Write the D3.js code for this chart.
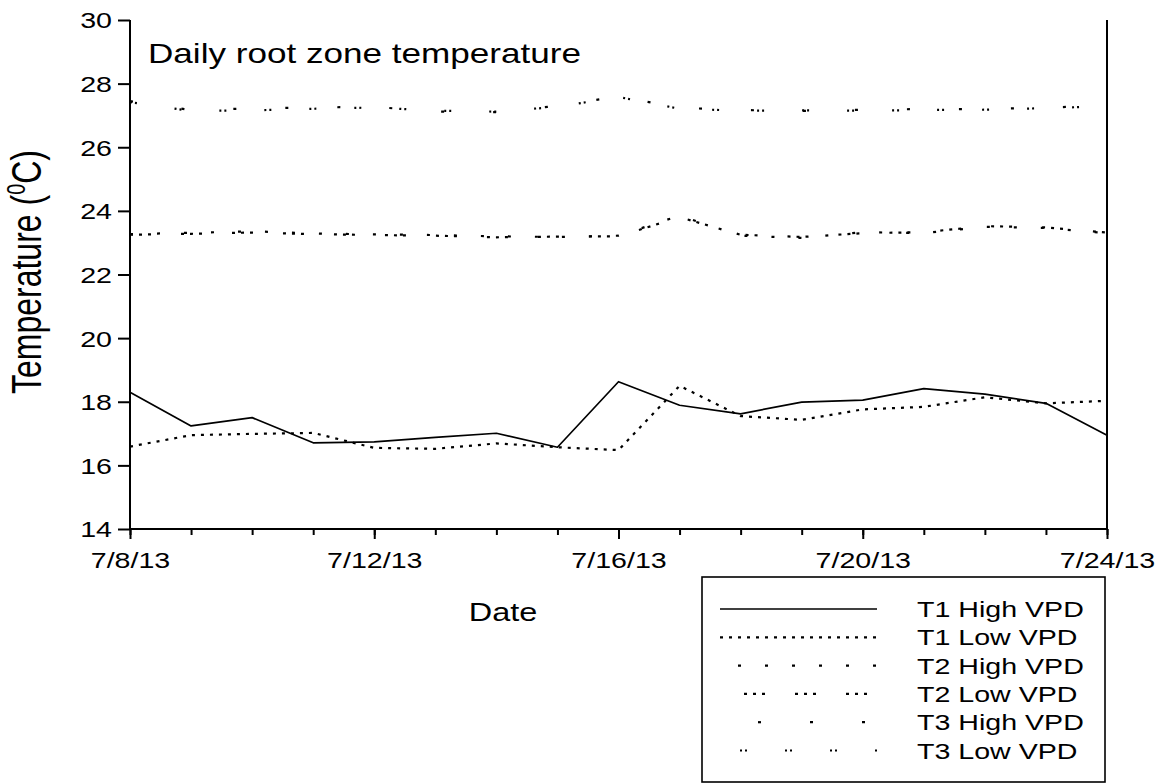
<!DOCTYPE html>
<html>
<head>
<meta charset="utf-8">
<script src="https://cdn.jsdelivr.net/npm/d3@7"></script>
<style>
  html, body { margin: 0; padding: 0; background: #fff; }
  svg { display: block; }
  text { font-family: "Liberation Sans", Arial, sans-serif; fill: #000; }
</style>
</head>
<body>
<svg id="chart" width="1155" height="784"></svg>
<script>
// ---------------- data ----------------
const dates = ["2013-07-08","2013-07-09","2013-07-10","2013-07-11","2013-07-12","2013-07-13",
  "2013-07-14","2013-07-15","2013-07-16","2013-07-17","2013-07-18","2013-07-19","2013-07-20",
  "2013-07-21","2013-07-22","2013-07-23","2013-07-24"];
const t1High = [18.30, 17.24, 17.50, 16.71, 16.74, 16.88, 17.01, 16.57, 18.63, 17.89, 17.62, 17.99, 18.05, 18.41, 18.24, 17.95, 16.95];
const t1Low  = [16.59, 16.95, 16.99, 17.02, 16.55, 16.52, 16.69, 16.57, 16.48, 18.50, 17.55, 17.43, 17.76, 17.84, 18.14, 17.95, 18.03];
const t2High = [23.27, 23.31, 23.36, 23.29, 23.26, 23.24, 23.20, 23.18, 23.22, 23.85, 23.22, 23.15, 23.33, 23.30, 23.50, 23.46, 23.30];
const t2Low  = [23.25, 23.28, 23.32, 23.27, 23.24, 23.22, 23.17, 23.19, 23.20, 23.80, 23.25, 23.18, 23.30, 23.33, 23.52, 23.48, 23.32];
const t3High = [27.45, 27.17, 27.22, 27.25, 27.27, 27.12, 27.10, 27.30, 27.60, 27.24, 27.17, 27.14, 27.18, 27.20, 27.20, 27.25, 27.30];
const t3Low  = [27.42, 27.14, 27.16, 27.21, 27.25, 27.15, 27.12, 27.27, 27.58, 27.21, 27.15, 27.16, 27.15, 27.17, 27.18, 27.23, 27.29];
const seriesNames = ["T1 High VPD","T1 Low VPD","T2 High VPD","T2 Low VPD","T3 High VPD","T3 Low VPD"];
const seriesValues = [t1High, t1Low, t2High, t2Low, t3High, t3Low];
const yTicks = [14, 16, 18, 20, 22, 24, 26, 28, 30];
const titleText = "Daily root zone temperature";
const xLabel = "Date";

// ---------------- styles ----------------
const dashes = [null, "3,6", "3,24", "3,6,3,6,3,30", "3,49", "2,3,2,38"];
const legendOffsets = [0, 0, 9, 27, 14, 25];
const widths = [1.7, 2.2, 2.2, 2.2, 2.2, 2.2];
const SX = 1.3; // horizontal text stretch of the reference

const parse = d3.timeParse("%Y-%m-%d");
const dd = dates.map(parse);

const svg = d3.select("#chart");
const L = 130, R = 1107, T = 20, B = 529;

const x = d3.scaleTime().domain([dd[0], dd[dd.length - 1]]).range([L, R]);
const y = d3.scaleLinear().domain([14, 30]).range([B, T]);

// lines
const line = d3.line().x((d, i) => x(dd[i])).y(d => y(d));
seriesValues.forEach((vals, k) => {
  svg.append("path")
    .datum(vals)
    .attr("d", line)
    .attr("fill", "none")
    .attr("stroke", "#000")
    .attr("stroke-width", widths[k])
    .attr("stroke-dasharray", dashes[k])
    .attr("stroke-linejoin", "round");
});

// x axis minor (daily)
svg.append("g")
  .attr("transform", `translate(0,${B})`)
  .call(d3.axisBottom(x).ticks(d3.timeDay.every(1)).tickSize(6).tickFormat(""))
  .call(g => g.select(".domain").remove())
  .call(g => g.selectAll("line").attr("stroke-width", 2));

// x axis major
const xAxis = svg.append("g")
  .attr("transform", `translate(0,${B})`)
  .call(d3.axisBottom(x).tickValues([dd[0], dd[4], dd[8], dd[12], dd[16]])
    .tickSize(10).tickFormat(d3.timeFormat("%-m/%-d/%y")));
xAxis.select(".domain").attr("stroke-width", 2).attr("d", `M${L},0H${R}`);
xAxis.selectAll("line").attr("stroke-width", 2);
xAxis.selectAll("text")
  .attr("font-size", 22).attr("y", 39).attr("dy", 0)
  .attr("transform", `scale(${SX},1)`)
  .style("font-family", "Liberation Sans, Arial, sans-serif");

// y axis
const yAxis = svg.append("g")
  .attr("transform", `translate(${L},0)`)
  .call(d3.axisLeft(y).tickValues(yTicks).tickSize(12).tickFormat(d3.format("d")));
yAxis.select(".domain").attr("stroke-width", 2).attr("d", `M0,${T}V${B}`);
yAxis.selectAll("line").attr("stroke-width", 2);
yAxis.selectAll("text")
  .attr("font-size", 22).attr("x", -18 / SX).attr("dy", "0.36em")
  .attr("transform", `scale(${SX},1)`)
  .style("font-family", "Liberation Sans, Arial, sans-serif");

// right frame line
svg.append("line").attr("x1", R).attr("x2", R).attr("y1", T).attr("y2", B)
  .attr("stroke", "#000").attr("stroke-width", 2);

// title
svg.append("text")
  .attr("transform", `translate(148,63) scale(${SX},1)`)
  .attr("font-size", 27)
  .text(titleText);

// x label
svg.append("text")
  .attr("transform", `translate(503,621) scale(${SX},1)`)
  .attr("text-anchor", "middle")
  .attr("font-size", 25)
  .text(xLabel);

// y label
const yl = svg.append("text")
  .attr("transform", `translate(41,272) scale(${SX},1) rotate(-90)`)
  .attr("text-anchor", "middle")
  .attr("font-size", 32);
yl.append("tspan").text("Temperature (");
yl.append("tspan").attr("font-size", 20).attr("dy", -12).text("0");
yl.append("tspan").attr("dy", 12).text("C)");

// legend
const lg = svg.append("g");
lg.append("rect").attr("x", 702).attr("y", 577).attr("width", 403).attr("height", 205)
  .attr("fill", "#fff").attr("stroke", "#000").attr("stroke-width", 1.6);
seriesNames.forEach((name, k) => {
  const cy = 609 + k * 28.3;
  lg.append("line").attr("x1", 720).attr("x2", 877).attr("y1", cy).attr("y2", cy)
    .attr("stroke", "#000").attr("stroke-width", widths[k])
    .attr("stroke-dasharray", dashes[k])
    .attr("stroke-dashoffset", legendOffsets[k]);
  lg.append("text")
    .attr("transform", `translate(917,${cy + 8}) scale(${SX},1)`)
    .attr("font-size", 22)
    .text(name);
});
</script>
</body>
</html>
